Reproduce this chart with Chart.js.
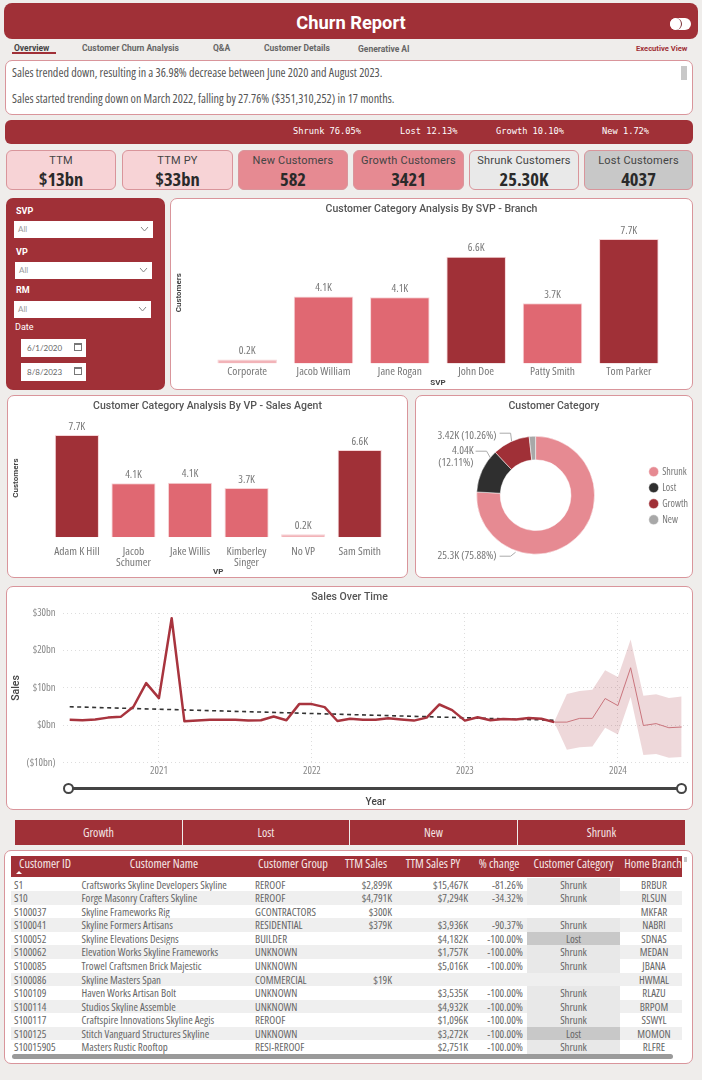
<!DOCTYPE html>
<html>
<head>
<meta charset="utf-8">
<title>Churn Report</title>
<script src="https://cdn.jsdelivr.net/npm/chart.js@4"></script>
<style>
  html, body { margin: 0; padding: 0; }
  body { width: 702px; height: 1080px; background: #efedeb; position: relative; overflow: hidden; font-family: Lato, "Open Sans", sans-serif; color: #555; }
  .abs { position: absolute; box-sizing: border-box; }
  .panel { position: absolute; box-sizing: border-box; background: #fff; border: 1px solid #d9959b; border-radius: 7px; }
  canvas { position: absolute; display: block; }
  #header { left: 4px; top: 3px; width: 694px; height: 36px; background: #a03037; border-radius: 8px; color: #fff; font: 700 18.3px Roboto, sans-serif; text-align: center; line-height: 40px; }
  #toggle { left: 670px; top: 18px; width: 21px; height: 12px; background: #fff; border-radius: 6px; }
  #toggle div { position: absolute; left: 0; top: 0; width: 12px; height: 12px; border-radius: 50%; background: #fff; border-right: 1px solid #7a3036; box-sizing: border-box; }
  .tab { position: absolute; top: 43px; font: 700 8.5px Roboto, sans-serif; color: #666; white-space: nowrap; }
  #story { left: 5px; top: 60px; width: 688px; height: 55px; font: condensed 12.1px/14px "Open Sans", Lato, sans-serif; color: #555; }
  #story p { position: absolute; left: 6px; margin: 0; white-space: nowrap; }
  #strip { left: 5px; top: 120px; width: 688px; height: 24px; background: #a03037; border-radius: 6px; }
  #strip span { position: absolute; top: 6px; font: 8.7px "DejaVu Sans Mono", monospace; color: #fff; white-space: nowrap; }
  .kpi { position: absolute; top: 150px; height: 40px; box-sizing: border-box; border: 1px solid #d9959b; border-radius: 6px; text-align: center; color: #333; }
  .kpi .lbl { font: 400 11px/12px Roboto, sans-serif; letter-spacing: .2px; margin-top: 4px; color: #444; }
  .kpi .val { font: condensed 700 18.5px/18px "Open Sans", Roboto, sans-serif; margin-top: 2.5px; color: #2a2a2a; }
  #filters { left: 6px; top: 198px; width: 159px; height: 192px; background: #a03037; border-radius: 7px; color: #fff; }
  .flbl { position: absolute; font: 700 9px Roboto, sans-serif; color: #fff; }
  .drop { position: absolute; background: #fff; height: 17px; box-sizing: border-box; padding-left: 4px; font: 8px/17px Lato, sans-serif; color: #999; }
  .drop svg { position: absolute; right: 4px; top: 5px; }
  .datebox { position: absolute; left: 15px; width: 65px; height: 18px; background: #fff; font: 8px/18px Lato, sans-serif; color: #666; padding-left: 6px; box-sizing: border-box; }
  .datebox i { position: absolute; right: 4px; top: 4px; width: 8px; height: 8px; border: 1px solid #777; border-top-width: 2px; box-sizing: border-box; }
  #slider-line { left: 68px; top: 787px; width: 613px; height: 3px; background: #444; }
  .knob { position: absolute; top: 783px; width: 11px; height: 11px; background: #fff; border: 2px solid #444; border-radius: 50%; box-sizing: border-box; }
  .seg { position: absolute; top: 820px; height: 25px; background: #a03037; color: #f4e6e6; font: condensed 12px/25px "Open Sans", Lato, sans-serif; text-align: center; box-sizing: border-box; }
  #tablePanel { left: 4px; top: 850px; width: 689px; height: 214px; }
  #tableHead { left: 11px; top: 856px; width: 671px; height: 21px; background: #a03037; overflow: hidden; }
  #tableHead span { position: absolute; top: 0; color: #f6e8e8; font: condensed 12.3px/16px "Open Sans", Lato, sans-serif; white-space: nowrap; transform: translateX(-50%); }
  #sortMark { left: 16px; top: 871px; width: 0; height: 0; border-left: 3px solid transparent; border-right: 3px solid transparent; border-bottom: 3px solid #fff; }
  #tableBody { left: 11px; top: 877.5px; width: 671px; }
  .row { display: grid; grid-template-columns: 68px 171px 90px 56px 76px 55px 93px 62px; height: 13.58px; font: condensed 10.9px/13.58px "Open Sans", Lato, sans-serif; color: #666; white-space: nowrap; }
  .row.alt { background: #efefef; }
  .row > div { overflow: hidden; box-sizing: border-box; }
  .c-id { padding-left: 3px; } .c-name { padding-left: 2.5px; } .c-group { padding-left: 5px; }
  .c-num { text-align: right; padding-right: 4px; }
  .c-cat { text-align: center; }
  .c-home { text-align: center; padding-left: 6px; }
  #tableBar { left: 12px; top: 1053.5px; width: 661px; height: 5px; background: #9a9a9a; border-radius: 3px; }
  #tableMark { left: 684px; top: 857px; width: 3px; height: 5px; background: #c4c4c4; }
</style>
</head>
<body>

<div class="abs" id="header">Churn Report</div>
<div class="abs" id="toggle"><div></div></div>

<div class="tab" style="left:14px;color:#444;">Overview</div>
<div class="abs" style="left:12px;top:52px;width:44px;height:2px;background:#a03037;"></div>
<div class="tab" style="left:82px;">Customer Churn Analysis</div>
<div class="tab" style="left:213px;">Q&amp;A</div>
<div class="tab" style="left:264px;">Customer Details</div>
<div class="tab" style="left:358px;top:44px;">Generative AI</div>
<div class="tab" style="left:636px;color:#a03037;font-size:7.6px;top:44px;">Executive View</div>

<div class="panel" id="story">
  <p style="top:5px;">Sales trended down, resulting in a 36.98% decrease between June 2020 and August 2023.</p>
  <p style="top:31px;">Sales started trending down on March 2022, falling by 27.76% ($351,310,252) in 17 months.</p>
  <div class="abs" style="left:675px;top:5px;width:6px;height:14px;background:#c8c8c8;"></div>
</div>

<div class="abs" id="strip">
  <span style="left:288px;">Shrunk 76.05%</span>
  <span style="left:395px;">Lost 12.13%</span>
  <span style="left:491px;">Growth 10.10%</span>
  <span style="left:597px;">New 1.72%</span>
</div>

<div id="kpis"></div>

<div class="abs" id="filters">
  <div class="flbl" style="left:10px;top:8px;">SVP</div>
  <div class="drop" style="left:8px;top:23px;width:139px;">All<svg width="9" height="6"><path d="M1 1 L4.5 5 L8 1" fill="none" stroke="#888"/></svg></div>
  <div class="flbl" style="left:10px;top:49px;">VP</div>
  <div class="drop" style="left:9px;top:64px;width:137px;">All<svg width="9" height="6"><path d="M1 1 L4.5 5 L8 1" fill="none" stroke="#888"/></svg></div>
  <div class="flbl" style="left:10px;top:87px;">RM</div>
  <div class="drop" style="left:8px;top:103px;width:137px;">All<svg width="9" height="6"><path d="M1 1 L4.5 5 L8 1" fill="none" stroke="#888"/></svg></div>
  <div class="flbl" style="left:9px;top:124px;font-weight:400;">Date</div>
  <div class="datebox" style="top:141px;">6/1/2020<i></i></div>
  <div class="datebox" style="top:165px;">8/8/2023<i></i></div>
</div>

<div class="panel" style="left:170px;top:198px;width:523px;height:192px;"></div>
<canvas id="svpChart" width="523" height="192" style="left:170px;top:198px;"></canvas>

<div class="panel" style="left:7px;top:395px;width:401px;height:183px;"></div>
<canvas id="vpChart" width="401" height="183" style="left:7px;top:395px;"></canvas>

<div class="panel" style="left:415px;top:395px;width:278px;height:183px;"></div>
<canvas id="categoryChart" width="278" height="183" style="left:415px;top:395px;"></canvas>

<div class="panel" style="left:6px;top:586px;width:687px;height:224px;"></div>
<canvas id="salesChart" width="687" height="224" style="left:6px;top:586px;"></canvas>
<div class="abs" id="slider-line"></div>
<div class="knob" style="left:63px;"></div>
<div class="knob" style="left:676px;"></div>

<div id="segments"></div>

<div class="panel" id="tablePanel"></div>
<div class="abs" id="tableHead"></div>
<div class="abs" id="sortMark"></div>
<div class="abs" id="tableBody"></div>
<div class="abs" id="tableBar"></div>
<div class="abs" id="tableMark"></div>

<script>
// KPI cards
const kpiNames = ['TTM', 'TTM PY', 'New Customers', 'Growth Customers', 'Shrunk Customers', 'Lost Customers'];
const kpiValues = ['$13bn', '$33bn', '582', '3421', '25.30K', '4037'];

// bars by SVP
const svpNames = ['Corporate', 'Jacob William', 'Jane Rogan', 'John Doe', 'Patty Smith', 'Tom Parker'];
const svpCustomers = [0.24, 4.14, 4.1, 6.6, 3.73, 7.7];

// bars by VP
const vpNames = ['Adam K Hill', ['Jacob', 'Schumer'], 'Jake Willis', ['Kimberley', 'Singer'], 'No VP', 'Sam Smith'];
const vpCustomers = [7.7, 4.07, 4.11, 3.7, 0.23, 6.57];

// donut
const categoryNames = ['Shrunk', 'Lost', 'Growth', 'New'];
const categoryCounts = [25.3, 4.04, 3.42, 0.58];

// sales over time, $bn per month, Jun 2020 .. Jun 2024
const months = [
  'Jun 2020', 'Jul 2020', 'Aug 2020', 'Sep 2020', 'Oct 2020', 'Nov 2020', 'Dec 2020',
  'Jan 2021', 'Feb 2021', 'Mar 2021', 'Apr 2021', 'May 2021', 'Jun 2021', 'Jul 2021', 'Aug 2021', 'Sep 2021', 'Oct 2021', 'Nov 2021', 'Dec 2021',
  'Jan 2022', 'Feb 2022', 'Mar 2022', 'Apr 2022', 'May 2022', 'Jun 2022', 'Jul 2022', 'Aug 2022', 'Sep 2022', 'Oct 2022', 'Nov 2022', 'Dec 2022',
  'Jan 2023', 'Feb 2023', 'Mar 2023', 'Apr 2023', 'May 2023', 'Jun 2023', 'Jul 2023', 'Aug 2023', 'Sep 2023', 'Oct 2023', 'Nov 2023', 'Dec 2023',
  'Jan 2024', 'Feb 2024', 'Mar 2024', 'Apr 2024', 'May 2024', 'Jun 2024'
];
const sales = [
  1.5, 1.4, 1.6, 2.1, 2.3, 5.0, 11.3,
  7.3, 28.6, 1.1, 1.3, 1.5, 1.5, 1.5, 1.3, 1.4, 2.4, 1.4, 5.7,
  5.7, 4.9, 1.2, 1.8, 1.5, 1.5, 1.9, 1.6, 1.3, 2.1, 5.6, 4.1,
  1.3, 2.2, 1.4, 1.7, 1.6, 2.0, 1.8, 0.9
];
const trendStart = 5.0;
const trendEnd = 1.4;
const forecast = [0.9, 0.9, 1.9, 1.9, 7.2, 5.3, 15.4, 0, 0.5, -0.6, -0.4];
const forecastUpper = [0.9, 8.4, 9.2, 9.5, 14.7, 12.9, 22.9, 7.9, 8.3, 7.3, 7.7];
const forecastLower = [0.9, -6.5, -5.8, -5.6, -0.6, -2.4, 7.6, -7.9, -7.6, -8.6, -8.4];

// category filter buttons
const segmentNames = ['Growth', 'Lost', 'New', 'Shrunk'];

// table
const tableHeaders = ['Customer ID', 'Customer Name', 'Customer Group', 'TTM Sales', 'TTM Sales PY', '% change', 'Customer Category', 'Home Branch'];
const customerIds = ['S1', 'S10', 'S100037', 'S100041', 'S100052', 'S100062', 'S100085', 'S100086', 'S100109', 'S100114', 'S100117', 'S100125', 'S10015905'];
const customerNames = ['Craftsworks Skyline Developers Skyline', 'Forge Masonry Crafters Skyline', 'Skyline Frameworks Rig', 'Skyline Formers Artisans', 'Skyline Elevations Designs', 'Elevation Works Skyline Frameworks', 'Trowel Craftsmen Brick Majestic', 'Skyline Masters Span', 'Haven Works Artisan Bolt', 'Studios Skyline Assemble', 'Craftspire Innovations Skyline Aegis', 'Stitch Vanguard Structures Skyline', 'Masters Rustic Rooftop'];
const customerGroups = ['REROOF', 'REROOF', 'GCONTRACTORS', 'RESIDENTIAL', 'BUILDER', 'UNKNOWN', 'UNKNOWN', 'COMMERCIAL', 'UNKNOWN', 'UNKNOWN', 'REROOF', 'UNKNOWN', 'RESI-REROOF'];
const ttmSales = ['$2,899K', '$4,791K', '$300K', '$379K', '', '', '', '$19K', '', '', '', '', ''];
const ttmSalesPy = ['$15,467K', '$7,294K', '', '$3,936K', '$4,182K', '$1,757K', '$5,016K', '', '$3,535K', '$4,932K', '$1,096K', '$3,272K', '$2,751K'];
const pctChange = ['-81.26%', '-34.32%', '', '-90.37%', '-100.00%', '-100.00%', '-100.00%', '', '-100.00%', '-100.00%', '-100.00%', '-100.00%', '-100.00%'];
const customerCategories = ['Shrunk', 'Shrunk', '', 'Shrunk', 'Lost', 'Shrunk', 'Shrunk', '', 'Shrunk', 'Shrunk', 'Shrunk', 'Lost', 'Shrunk'];
const homeBranches = ['BRBUR', 'RLSUN', 'MKFAR', 'NABRI', 'SDNAS', 'MEDAN', 'JBANA', 'HWMAL', 'RLAZU', 'BRPOM', 'SSWYL', 'MOMON', 'RLFRE'];

const RED = '#a03037';
const MID = '#e06872';
const PALE = '#f2b3b8';
const FONT = '"Open Sans", Lato, sans-serif';
const TITLE_FONT = 'Roboto, sans-serif';

// ---- html bits ----
const kpiBoxes = [[6, 110, '#f7d3d6'], [122, 111, '#f7d3d6'], [238, 110, '#e68a92'], [353, 111, '#e68a92'], [469, 110, '#e9e9e9'], [584, 109, '#c8c8c8']];
kpiNames.forEach((name, i) => {
  const d = document.createElement('div');
  d.className = 'kpi';
  d.style.left = kpiBoxes[i][0] + 'px';
  d.style.width = kpiBoxes[i][1] + 'px';
  d.style.background = kpiBoxes[i][2];
  d.innerHTML = `<div class="lbl">${name}</div><div class="val">${kpiValues[i]}</div>`;
  document.getElementById('kpis').appendChild(d);
});

const segLefts = [15, 183, 350, 518];
const segWidths = [167, 166, 167, 167];
segmentNames.forEach((name, i) => {
  const d = document.createElement('div');
  d.className = 'seg';
  d.style.left = segLefts[i] + 'px';
  d.style.width = segWidths[i] + 'px';
  d.textContent = name;
  document.getElementById('segments').appendChild(d);
});

const headCentres = [34, 153, 282, 355, 422, 488, 562.5, 642];
tableHeaders.forEach((h, i) => {
  const s = document.createElement('span');
  s.style.left = headCentres[i] + 'px';
  s.textContent = h;
  document.getElementById('tableHead').appendChild(s);
});

customerIds.forEach((id, i) => {
  const row = document.createElement('div');
  row.className = 'row' + (i % 2 ? ' alt' : '');
  const cat = customerCategories[i];
  const catBg = cat === 'Lost' ? '#c8c8c8' : '#e8e8e8';
  row.innerHTML = `
    <div class="c-id">${id}</div>
    <div class="c-name">${customerNames[i]}</div>
    <div class="c-group">${customerGroups[i]}</div>
    <div class="c-num">${ttmSales[i]}</div>
    <div class="c-num">${ttmSalesPy[i]}</div>
    <div class="c-num">${pctChange[i]}</div>
    <div class="c-cat" style="${cat ? 'background:' + catBg : ''}">${cat}</div>
    <div class="c-home">${homeBranches[i]}</div>`;
  document.getElementById('tableBody').appendChild(row);
});

// ---- charts ----
Chart.defaults.animation = false;
Chart.defaults.responsive = false;
Chart.defaults.font.family = FONT;
// goes straight into the canvas font string, gives the narrow Open Sans faces
Chart.defaults.font.weight = 'condensed';

// chart titles centre on the whole card, not on what the legend and padding leave
const centreTitle = {
  id: 'centreTitle',
  afterLayout(chart) {
    chart.titleBlock.left = 0;
    chart.titleBlock.right = chart.width;
  }
};

const barLabels = {
  id: 'barLabels',
  afterDatasetsDraw(chart) {
    const ctx = chart.ctx;
    const bars = chart.getDatasetMeta(0).data;
    ctx.save();
    ctx.font = 'condensed 11px ' + FONT;
    ctx.fillStyle = '#777';
    ctx.textAlign = 'center';
    ctx.textBaseline = 'middle';
    bars.forEach((bar, i) => {
      ctx.fillText(chart.data.datasets[0].data[i].toFixed(1) + 'K', bar.x, bar.y - 8.5);
    });
    ctx.restore();
  }
};

function barColor(v) {
  if (v > 5) return RED;
  if (v > 1) return MID;
  return PALE;
}

function barChart(id, title, labels, values, xName, opts) {
  new Chart(document.getElementById(id), {
    type: 'bar',
    data: {
      labels: labels,
      datasets: [{
        data: values,
        backgroundColor: values.map(barColor),
        borderColor: '#f6d5d8',
        borderWidth: 1,
        barPercentage: 0.78,
        categoryPercentage: 1
      }]
    },
    options: {
      layout: { padding: { left: 4, right: opts.right, top: 0, bottom: 0 } },
      plugins: {
        legend: { display: false },
        tooltip: { enabled: false },
        title: {
          display: true,
          text: title,
          color: '#555',
          font: { family: TITLE_FONT, size: 10.5, weight: '500' },
          padding: { top: 5, bottom: 6.4 }
        }
      },
      scales: {
        x: {
          grid: { display: false, drawTicks: false },
          border: { display: false },
          ticks: { color: '#777', font: { size: 11.5, lineHeight: 0.98 }, padding: opts.tickPad, maxRotation: 0, autoSkip: false },
          title: { display: true, text: xName, color: '#444', font: { family: TITLE_FONT, size: 8, weight: '700' }, padding: opts.xTitlePad }
        },
        y: {
          min: 0,
          max: opts.max,
          grid: { display: false, drawTicks: false },
          border: { display: false },
          ticks: { display: false },
          title: { display: true, text: 'Customers', color: '#444', font: { family: TITLE_FONT, size: 8, weight: '700' }, padding: { top: 0, bottom: opts.titleGap } }
        }
      }
    },
    plugins: [barLabels, centreTitle]
  });
}

barChart('svpChart', 'Customer Category Analysis By SVP - Branch', svpNames, svpCustomers, 'SVP', { right: 26, max: 8.75, tickPad: 3, xTitlePad: { top: -2.3, bottom: 2 }, titleGap: 25.4 });
barChart('vpChart', 'Customer Category Analysis By VP - Sales Agent', vpNames, vpCustomers, 'VP', { right: 20, max: 8.9, tickPad: 9, xTitlePad: { top: -10.9, bottom: 1.5 }, titleGap: 28 });

// leader lines and labels of the donut, offsets from the donut centre
const donutNotes = [
  { lines: ['25.3K (75.88%)'], arc: 0, textX: -39, textY: 61, path: [[-36, 61], [-25, 61], [-20, 57]] },
  { lines: ['4.04K', '(12.11%)'], arc: 1, textX: -62, textY: -44, path: [[-60, -44], [-49, -44], [-45, -37]] },
  { lines: ['3.42K (10.26%)'], arc: 2, textX: -39, textY: -59, path: [[-36, -62], [-25, -62], [-24, -54]] }
];
const donutLabels = {
  id: 'donutLabels',
  afterLayout(chart) {
    // legend sits level with the ring rather than with the whole card
    chart.legend.top += 21;
    chart.legend.bottom += 21;
    chart.legend.left += 5;
    chart.legend.right += 5;
  },
  afterDatasetsDraw(chart) {
    const ctx = chart.ctx;
    const arcs = chart.getDatasetMeta(0).data;
    ctx.save();
    ctx.font = 'condensed 11.2px ' + FONT;
    ctx.fillStyle = '#777';
    ctx.strokeStyle = '#aaa';
    ctx.lineWidth = 1;
    ctx.textAlign = 'right';
    ctx.textBaseline = 'middle';
    donutNotes.forEach(n => {
      const cx = arcs[n.arc].x, cy = arcs[n.arc].y;
      n.lines.forEach((t, i) => ctx.fillText(t, cx + n.textX, cy + n.textY + i * 12));
      ctx.beginPath();
      n.path.forEach((p, i) => i ? ctx.lineTo(cx + p[0], cy + p[1]) : ctx.moveTo(cx + p[0], cy + p[1]));
      ctx.stroke();
    });
    ctx.restore();
  }
};

new Chart(document.getElementById('categoryChart'), {
  type: 'doughnut',
  data: {
    labels: categoryNames,
    datasets: [{
      data: categoryCounts,
      backgroundColor: ['#e68a92', '#2f2f2f', RED, '#a8a8a8'],
      borderWidth: 0.5,
      borderColor: '#fff'
    }]
  },
  options: {
    cutout: '60%',
    layout: { padding: { left: 17, right: 0, top: 0, bottom: 23.6 } },
    plugins: {
      tooltip: { enabled: false },
      title: {
        display: true,
        text: 'Customer Category',
        color: '#555',
        font: { family: TITLE_FONT, size: 10.5, weight: '500' },
        padding: { top: 5, bottom: 23.4 }
      },
      legend: {
        position: 'right',
        labels: {
          usePointStyle: true,
          pointStyle: 'circle',
          boxWidth: 7,
          boxHeight: 7,
          padding: 6,
          color: '#777',
          font: { size: 10 }
        }
      }
    }
  },
  plugins: [donutLabels, centreTitle]
});

const noValues = n => Array(n).fill(null);

new Chart(document.getElementById('salesChart'), {
  type: 'line',
  data: {
    labels: months,
    datasets: [
      { data: sales, borderColor: '#a8343e', borderWidth: 2.5, borderJoinStyle: 'round', pointRadius: 0, tension: 0 },
      { data: [trendStart, ...noValues(37), trendEnd], borderColor: '#333', borderWidth: 1.6, borderDash: [4, 3.5], pointRadius: 0, spanGaps: true },
      { data: [...noValues(38), ...forecast], borderColor: '#c9747c', borderWidth: 1, borderJoinStyle: 'round', pointRadius: 0 },
      { data: [...noValues(38), ...forecastUpper], borderWidth: 0, pointRadius: 0, fill: '+1', backgroundColor: 'rgba(170,60,70,0.2)' },
      { data: [...noValues(38), ...forecastLower], borderWidth: 0, pointRadius: 0 }
    ]
  },
  options: {
    layout: { padding: { left: 4, right: 5, top: 0, bottom: 0 } },
    plugins: {
      legend: { display: false },
      tooltip: { enabled: false },
      title: {
        display: true,
        text: 'Sales Over Time',
        color: '#555',
        font: { family: TITLE_FONT, size: 10.5, weight: '500' },
        padding: { top: 5, bottom: 9.4 }
      }
    },
    scales: {
      x: {
        offset: true,
        grid: {
          offset: false,
          drawTicks: false,
          color: c => (c.tick && c.tick.label ? '#ddd' : 'transparent')
        },
        border: { display: false, dash: [1, 3] },
        ticks: {
          color: '#888',
          font: { size: 10.5, lineHeight: 1.03 },
          padding: 3,
          autoSkip: false,
          maxRotation: 0,
          callback(v, i) {
            const m = months[i];
            return m.startsWith('Jan') ? m.slice(4) : '';
          }
        },
        title: { display: true, text: 'Year', color: '#444', font: { family: TITLE_FONT, size: 10, weight: '500' }, padding: { top: 16.5, bottom: 1.7 } }
      },
      y: {
        min: -10,
        max: 30,
        afterFit(s) { s.width = 53.3; },
        grid: { color: '#ddd', drawTicks: false },
        border: { display: false, dash: [1, 3] },
        ticks: {
          stepSize: 10,
          color: '#888',
          font: { size: 10.5 },
          padding: 7.7,
          callback: v => (v < 0 ? '($' + (-v) + 'bn)' : '$' + v + 'bn')
        },
        title: { display: true, text: 'Sales', color: '#444', font: { family: TITLE_FONT, size: 10.5, weight: '500' }, padding: { top: 0, bottom: 0 } }
      }
    }
  },
  plugins: [centreTitle]
});
</script>
</body>
</html>
